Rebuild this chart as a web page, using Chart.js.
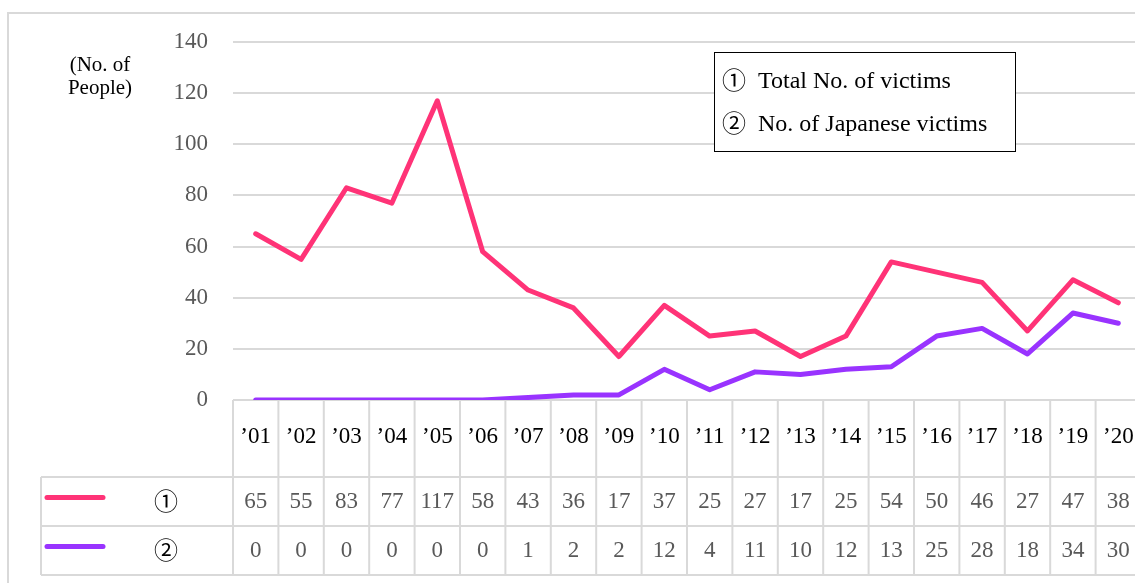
<!DOCTYPE html>
<html>
<head>
<meta charset="utf-8">
<script src="https://cdn.jsdelivr.net/npm/chart.js@4"></script>
<style>
  html, body { margin: 0; padding: 0; background: #fff; overflow: hidden; }
  #wrap { width: 1143px; height: 583px; }
</style>
</head>
<body>
<div id="wrap"><canvas id="victimChart" width="1143" height="583"></canvas></div>
<script>
// data
const years = ['’01', '’02', '’03', '’04', '’05', '’06', '’07', '’08', '’09', '’10',
               '’11', '’12', '’13', '’14', '’15', '’16', '’17', '’18', '’19', '’20'];
const totalVictims = [65, 55, 83, 77, 117, 58, 43, 36, 17, 37, 25, 27, 17, 25, 54, 50, 46, 27, 47, 38];
const japaneseVictims = [0, 0, 0, 0, 0, 0, 1, 2, 2, 12, 4, 11, 10, 12, 13, 25, 28, 18, 34, 30];
const seriesMarks = ['①', '②'];
const seriesNames = ['Total No. of victims', 'No. of Japanese victims'];
const yTicks = [0, 20, 40, 60, 80, 100, 120, 140];
const unitLines = ['(No. of', 'People)'];

const PINK = '#ff3377';
const PURPLE = '#9933ff';
const GRID = '#d9d9d9';
const GRAY_TEXT = '#595959';
const SERIF = "'Liberation Serif', 'Noto Sans CJK JP', 'DejaVu Serif', serif";

// table rows under the plot: header, series 1, series 2
const TABLE = { top: 400, row1: 477, row2: 526, bottom: 575, left: 41 };

const tablePlugin = {
    id: 'dataTable',
    beforeDraw(chart) {
        const ctx = chart.ctx;
        ctx.save();
        // outer frame
        ctx.strokeStyle = GRID;
        ctx.lineWidth = 2;
        ctx.strokeRect(8, 13, 1200, 700);
        ctx.restore();
    },
    afterDraw(chart) {
        const ctx = chart.ctx;
        const x = chart.scales.x;
        const area = chart.chartArea;
        const step = x.getPixelForValue(1) - x.getPixelForValue(0);
        ctx.save();

        // grid of the table
        ctx.strokeStyle = GRID;
        ctx.lineWidth = 2;
        ctx.beginPath();
        [TABLE.row1, TABLE.row2, TABLE.bottom].forEach(yy => {
            ctx.moveTo(TABLE.left, yy);
            ctx.lineTo(area.right, yy);
        });
        ctx.moveTo(TABLE.left, TABLE.row1);
        ctx.lineTo(TABLE.left, TABLE.bottom);
        for (let i = 0; i <= years.length; i++) {
            const bx = x.getPixelForValue(0) - step / 2 + i * step;
            ctx.moveTo(bx, TABLE.top);
            ctx.lineTo(bx, TABLE.bottom);
        }
        ctx.stroke();

        // year header
        ctx.textAlign = 'center';
        ctx.textBaseline = 'middle';
        ctx.font = '23px ' + SERIF;
        ctx.fillStyle = '#000';
        years.forEach((y, i) => ctx.fillText(y, x.getPixelForValue(i), 437));

        // values
        ctx.fillStyle = GRAY_TEXT;
        const rowsY = [(TABLE.row1 + TABLE.row2) / 2, (TABLE.row2 + TABLE.bottom) / 2];
        [totalVictims, japaneseVictims].forEach((vals, r) => {
            vals.forEach((v, i) => ctx.fillText(String(v), x.getPixelForValue(i), rowsY[r]));
        });

        // row keys: coloured line + circled number
        const colors = [PINK, PURPLE];
        rowsY.forEach((ry, r) => {
            ctx.strokeStyle = colors[r];
            ctx.lineWidth = 5;
            ctx.lineCap = 'round';
            ctx.beginPath();
            ctx.moveTo(47, ry - 4);
            ctx.lineTo(103, ry - 4);
            ctx.stroke();
            ctx.fillStyle = '#000';
            ctx.font = '24px ' + SERIF;
            ctx.fillText(seriesMarks[r], 166, ry + 2);
        });

        // unit label
        ctx.font = '21px ' + SERIF;
        ctx.fillStyle = '#000';
        ctx.fillText(unitLines[0], 100, 65);
        ctx.fillText(unitLines[1], 100, 88);

        // legend box
        ctx.fillStyle = '#fff';
        ctx.fillRect(714, 52, 301, 99);
        ctx.strokeStyle = '#000';
        ctx.lineWidth = 1;
        ctx.strokeRect(714.5, 52.5, 301, 99);
        ctx.fillStyle = '#000';
        ctx.textAlign = 'left';
        [82, 125].forEach((ly, r) => {
            ctx.font = '24px ' + SERIF;
            ctx.fillText(seriesMarks[r], 722, ly + 1);
            ctx.fillText(seriesNames[r], 758, ly);
        });

        ctx.restore();
    }
};

const ctx = document.getElementById('victimChart').getContext('2d');
new Chart(ctx, {
    type: 'line',
    data: {
        labels: years,
        datasets: [
            {
                label: seriesNames[0],
                data: totalVictims,
                borderColor: PINK,
                backgroundColor: PINK,
                borderWidth: 5,
                pointRadius: 0,
                tension: 0,
                borderCapStyle: 'round',
                borderJoinStyle: 'round'
            },
            {
                label: seriesNames[1],
                data: japaneseVictims,
                borderColor: PURPLE,
                backgroundColor: PURPLE,
                borderWidth: 5,
                pointRadius: 0,
                tension: 0,
                borderCapStyle: 'round',
                borderJoinStyle: 'round'
            }
        ]
    },
    options: {
        responsive: false,
        animation: false,
        layout: { padding: { top: 42, bottom: 183, left: 0, right: 2 } },
        scales: {
            x: { type: 'category', offset: true, display: false },
            y: {
                min: 0,
                max: 140,
                afterBuildTicks: (scale) => { scale.ticks = yTicks.map(v => ({ value: v })); },
                afterFit: (scale) => { scale.width = 233; },
                grid: { color: GRID, lineWidth: 2, drawTicks: false },
                border: { display: false },
                ticks: {
                    color: GRAY_TEXT,
                    padding: 25,
                    font: { size: 23, family: SERIF }
                }
            }
        },
        plugins: {
            legend: { display: false },
            tooltip: { enabled: false },
            title: { display: false }
        }
    },
    plugins: [tablePlugin]
});
</script>
</body>
</html>
